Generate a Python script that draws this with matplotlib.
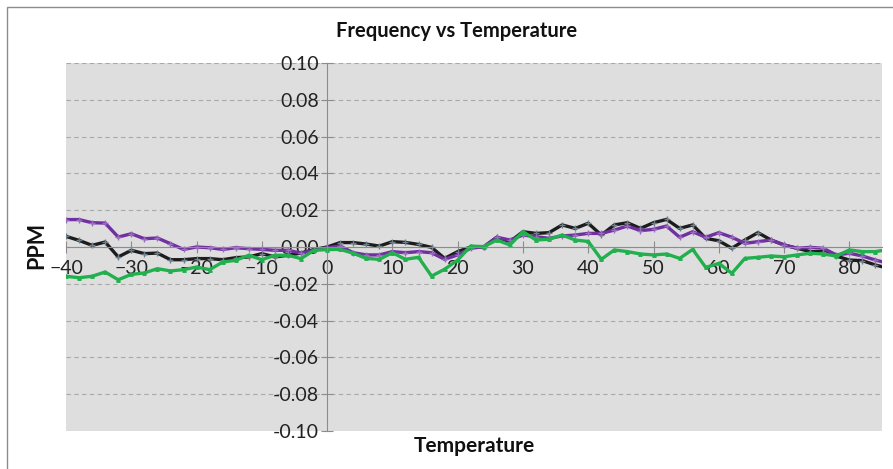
import matplotlib.pyplot as plt
from matplotlib.patches import Rectangle

# temperature steps (deg C) and PPM readings for the three units
temps = list(range(-40, 88, 2))

black_ppm = [0.0058, 0.0036, 0.0009, 0.0027, -0.0054, -0.0018, -0.0036, -0.0033, -0.0069, -0.0069,
             -0.0063, -0.0063, -0.0069, -0.0058, -0.0054, -0.0036, -0.0054, -0.0045, -0.0033, -0.0014,
             0.0000, 0.0024, 0.0024, 0.0016, 0.0005, 0.0029, 0.0025, 0.0014, -0.0002, -0.0062,
             -0.0025, 0.0000, 0.0000, 0.0053, 0.0029, 0.0083, 0.0074, 0.0078, 0.0120, 0.0101,
             0.0129, 0.0065, 0.0120, 0.0132, 0.0101, 0.0132, 0.0150, 0.0101, 0.0120, 0.0047,
             0.0034, -0.0007, 0.0038, 0.0078, 0.0038, 0.0011, -0.0007, -0.0025, -0.0025, -0.0049,
             -0.0071, -0.0074, -0.0098, -0.0116]

purple_ppm = [0.0149, 0.0149, 0.0132, 0.0130, 0.0054, 0.0072, 0.0045, 0.0049, 0.0018, -0.0013,
              0.0000, -0.0004, -0.0013, -0.0004, -0.0009, -0.0013, -0.0018, -0.0018, -0.0033, -0.0018,
              -0.0004, 0.0005, -0.0031, -0.0043, -0.0043, -0.0025, -0.0031, -0.0025, -0.0031, -0.0067,
              -0.0043, -0.0007, 0.0002, 0.0053, 0.0038, 0.0065, 0.0056, 0.0047, 0.0060, 0.0065,
              0.0074, 0.0074, 0.0092, 0.0114, 0.0089, 0.0096, 0.0114, 0.0053, 0.0083, 0.0053,
              0.0078, 0.0053, 0.0020, 0.0029, 0.0038, 0.0011, -0.0007, -0.0002, -0.0007, -0.0043,
              -0.0034, -0.0049, -0.0071, -0.0089]

green_ppm = [-0.0159, -0.0167, -0.0159, -0.0136, -0.0178, -0.0149, -0.0141, -0.0118, -0.0130, -0.0123,
             -0.0109, -0.0123, -0.0082, -0.0072, -0.0045, -0.0069, -0.0045, -0.0045, -0.0063, -0.0018,
             -0.0014, -0.0013, -0.0034, -0.0062, -0.0067, -0.0031, -0.0067, -0.0056, -0.0158, -0.0121,
             -0.0071, 0.0005, 0.0002, 0.0038, 0.0011, 0.0083, 0.0038, 0.0042, 0.0065, 0.0038,
             0.0030, -0.0067, -0.0016, -0.0025, -0.0038, -0.0043, -0.0038, -0.0062, -0.0013, -0.0111,
             -0.0089, -0.0143, -0.0062, -0.0056, -0.0049, -0.0053, -0.0043, -0.0034, -0.0038, -0.0049,
             -0.0016, -0.0025, -0.0025, -0.0013]

x_ticks = list(range(-40, 90, 10))
y_ticks = [-0.10, -0.08, -0.06, -0.04, -0.02, 0.00, 0.02, 0.04, 0.06, 0.08, 0.10]

plt.rcParams['font.family'] = ['Lato', 'DejaVu Sans']

fig = plt.figure(figsize=(8.93, 4.69), dpi=100)
ax = fig.add_axes([66 / 893, 38 / 469, 816 / 893, 368 / 469])
ax.set_facecolor('#dedede')

# outer chart border (only top/left visible in the original)
fig.patches.append(Rectangle((7 / 893, -0.1), 1.2, (469 - 7) / 469 + 0.1,
                             transform=fig.transFigure, fill=False,
                             edgecolor='#8c8c8c', linewidth=1))

ax.plot(temps, black_ppm, color='#1c1c1c', linewidth=2.4,
        marker='+', markersize=4, markeredgecolor='#6c7f8c', markeredgewidth=1)
ax.plot(temps, purple_ppm, color='#7030a0', linewidth=2.4,
        marker='+', markersize=4, markeredgecolor='#9a6cc0', markeredgewidth=1)
ax.plot(temps, green_ppm, color='#22b04e', linewidth=2.4,
        marker='^', markersize=2.5, markeredgecolor='#22b04e')

ax.set_xlim(-40, 85)
ax.set_ylim(-0.10, 0.10)
ax.set_xticks(x_ticks)
ax.set_yticks(y_ticks)
ax.set_yticklabels([f"{v:.2f}" for v in y_ticks])

ax.grid(axis='y', linestyle=(0, (4, 3)), color='#a8a8a8', linewidth=0.8)
ax.set_axisbelow(True)

for side in ['top', 'right']:
    ax.spines[side].set_visible(False)
ax.spines['left'].set_position(('data', 0))
ax.spines['bottom'].set_position(('data', 0))
ax.spines['left'].set_color('#8c8c8c')
ax.spines['bottom'].set_color('#8c8c8c')
ax.tick_params(axis='both', direction='inout', length=8, color='#8c8c8c',
               labelsize=14, labelcolor='#222222')
ax.tick_params(axis='x', pad=5)
ax.tick_params(axis='y', pad=2)

fig.text(457 / 893, 1 - 31 / 469, "Frequency vs Temperature", ha='center', va='center',
         fontsize=14.5, fontweight='bold', color='#111111')
fig.text(474 / 893, 1 - 446 / 469, "Temperature", ha='center', va='center',
         fontsize=15, fontweight='bold', color='#111111')
fig.text(37 / 893, 1 - 245 / 469, "PPM", ha='center', va='center', rotation=90,
         fontsize=15.5, fontweight='bold', color='#111111')

fig.savefig("out.png", dpi=100)
